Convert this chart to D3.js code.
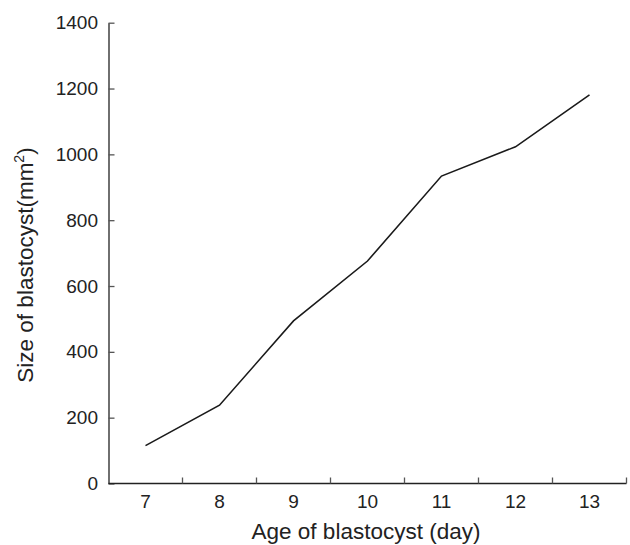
<!DOCTYPE html>
<html>
<head>
<meta charset="utf-8">
<script src="https://cdn.jsdelivr.net/npm/d3@7"></script>
<style>
  body { margin: 0; background: #fff; }
  svg text { font-family: "Liberation Sans", Arial, Helvetica, sans-serif; fill: #222; }
</style>
</head>
<body>
<svg id="chart" width="630" height="545"></svg>
<script>
// Data
const ages = ["7", "8", "9", "10", "11", "12", "13"];
const sizes = [115, 238, 494, 676, 934, 1023, 1181];
const yTicks = [0, 200, 400, 600, 800, 1000, 1200, 1400];

const svg = d3.select("#chart");

// Scales - x is banded, points sit in the middle of each day
const x = d3.scaleBand().domain(ages).range([108.5, 626.5]);
const y = d3.scaleLinear().domain([0, 1400]).range([483.5, 22.7]);

// Y axis (ticks point inward)
svg.append("g")
  .attr("transform", "translate(108.5,0)")
  .call(d3.axisLeft(y).tickValues(yTicks).tickFormat(d3.format("d"))
    .tickSizeInner(-6).tickSizeOuter(0).tickPadding(10.5))
  .call(g => {
    g.select(".domain").attr("stroke", "#222").attr("stroke-width", 1.3);
    g.selectAll(".tick line").attr("stroke", "#555").attr("stroke-width", 1.3);
    g.selectAll(".tick text").attr("font-size", "19px").attr("fill", "#222");
  });

// X axis - drawn by hand so ticks fall on the band edges
const xAxis = svg.append("g");
xAxis.append("line")
  .attr("x1", x.range()[0]).attr("x2", x.range()[1])
  .attr("y1", y(0)).attr("y2", y(0))
  .attr("stroke", "#222").attr("stroke-width", 1.3);

const edges = ages.slice(1).map(d => x(d)).concat([x.range()[1]]);
xAxis.selectAll(".xtick")
  .data(edges)
  .enter()
  .append("line")
  .attr("class", "xtick")
  .attr("x1", d => d).attr("x2", d => d)
  .attr("y1", y(0)).attr("y2", y(0) - 6)
  .attr("stroke", "#555").attr("stroke-width", 1.3);

xAxis.selectAll(".xlabel")
  .data(ages)
  .enter()
  .append("text")
  .attr("class", "xlabel")
  .attr("x", d => x(d) + x.bandwidth() / 2)
  .attr("y", 507.5)
  .attr("text-anchor", "middle")
  .attr("font-size", "19px")
  .text(d => d);

// The line
const line = d3.line()
  .x((d, i) => x(ages[i]) + x.bandwidth() / 2)
  .y(d => y(d));

svg.append("path")
  .datum(sizes)
  .attr("d", line)
  .attr("fill", "none")
  .attr("stroke", "#1a1a1a")
  .attr("stroke-width", 1.6);

// Axis titles
svg.append("text")
  .attr("x", 366)
  .attr("y", 539)
  .attr("text-anchor", "middle")
  .attr("font-size", "22.5px")
  .text("Age of blastocyst (day)");

const yTitle = svg.append("text")
  .attr("transform", "translate(33,265) rotate(-90)")
  .attr("text-anchor", "middle")
  .attr("font-size", "22.5px");
yTitle.append("tspan").text("Size of blastocyst(mm");
yTitle.append("tspan").attr("font-size", "14px").attr("dy", "-9").text("2");
yTitle.append("tspan").attr("dy", "9").text(")");
</script>
</body>
</html>
